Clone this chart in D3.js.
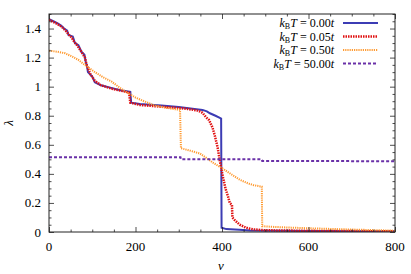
<!DOCTYPE html>
<html>
<head>
<meta charset="utf-8">
<script src="https://cdn.jsdelivr.net/npm/d3@7"></script>
<style>
  body { margin: 0; background: #fff; }
</style>
</head>
<body>
<div id="chart"></div>
<script>
// series: [nu, lambda]
const t000 = [[0,1.465],[10,1.45],[20,1.435],[28,1.42],[35,1.40],[42,1.385],[45,1.355],[55,1.345],[60,1.30],[68,1.285],[75,1.24],[82,1.22],[85,1.17],[88,1.14],[90,1.10],[100,1.07],[106,1.03],[120,1.01],[146,0.99],[165,0.975],[188,0.965],[190,0.89],[210,0.881],[260,0.87],[300,0.86],[341,0.845],[355,0.84],[365,0.83],[372,0.817],[385,0.80],[395,0.785],[398,0.78],[399,0.03],[410,0.02],[440,0.015],[465,0.01],[600,0.007],[800,0.005]];
const t005 = [[0,1.46],[10,1.445],[20,1.43],[30,1.41],[40,1.38],[45,1.36],[52,1.34],[58,1.31],[65,1.285],[75,1.24],[83,1.20],[88,1.14],[95,1.09],[106,1.04],[120,1.01],[146,0.985],[170,0.97],[185,0.96],[188,0.89],[210,0.874],[260,0.862],[300,0.853],[320,0.847],[345,0.835],[355,0.82],[363,0.79],[370,0.77],[378,0.72],[384,0.656],[390,0.58],[395,0.49],[402,0.38],[408,0.30],[414,0.243],[418,0.20],[423,0.186],[424,0.10],[430,0.08],[441,0.05],[455,0.03],[472,0.018],[500,0.012],[600,0.008],[800,0.005]];
const t050 = [[0,1.248],[20,1.24],[37,1.23],[55,1.205],[68,1.184],[85,1.145],[106,1.10],[125,1.065],[145,1.034],[165,0.99],[183,0.955],[200,0.925],[222,0.897],[240,0.875],[257,0.862],[280,0.85],[303,0.84],[305,0.576],[320,0.565],[334,0.553],[349,0.54],[365,0.507],[380,0.475],[395,0.449],[420,0.40],[442,0.358],[460,0.335],[472,0.323],[492,0.312],[493,0.04],[520,0.035],[560,0.03],[607,0.025],[700,0.017],[800,0.009]];
const t5000 = [[0,0.514],[304,0.514],[305,0.50],[492,0.50],[493,0.489],[800,0.487]];

const legendValues = ["0.00", "0.05", "0.50", "50.00"];
const xTicks = [0, 200, 400, 600, 800];
const yTicks = [0, 0.2, 0.4, 0.6, 0.8, 1, 1.2, 1.4];

const series = [
  { data: t000, color: "#3c3cb4", width: 2, dash: null },
  { data: t005, color: "#e01010", width: 2.5, dash: "1.5,1" },
  { data: t050, color: "#ff9a30", width: 2, dash: "1.2,1" },
  { data: t5000, color: "#6a30a8", width: 2, dash: "3,2" }
];

const W = 411, H = 274;
const mLeft = 49, mRight = 395, mTop = 14, mBottom = 232;
const serif = "'Liberation Serif', 'DejaVu Serif', serif";

const x = d3.scaleLinear().domain([0, 800]).range([mLeft, mRight]);
const y = d3.scaleLinear().domain([0, 1.5]).range([mBottom, mTop]);

const svg = d3.select("#chart").append("svg")
  .attr("width", W).attr("height", H)
  .style("font-family", serif);

svg.append("defs").append("clipPath").attr("id", "clip")
  .append("rect").attr("x", mLeft).attr("y", mTop)
  .attr("width", mRight - mLeft).attr("height", mBottom - mTop);

const line = d3.line().x(d => x(d[0])).y(d => y(d[1]));

const plot = svg.append("g").attr("clip-path", "url(#clip)");
series.forEach(s => {
  plot.append("path")
    .datum(s.data)
    .attr("d", line)
    .attr("fill", "none")
    .attr("stroke", s.color)
    .attr("stroke-width", s.width)
    .attr("stroke-dasharray", s.dash);
});

// ticks on all four sides, pointing inward
const axisColor = "#222";
const xMinor = d3.range(0, 801, 50).filter(v => v % 200 !== 0);
const yMinor = d3.range(0, 31).map(i => i * 0.05).filter(v => Math.abs(v * 5 - Math.round(v * 5)) > 1e-6);

function ticks(axis, tr, vals, size) {
  svg.append("g").attr("transform", tr)
    .call(axis.tickValues(vals).tickSize(-size).tickFormat(""))
    .call(g => g.select(".domain").remove());
}
ticks(d3.axisBottom(x), `translate(0,${mBottom})`, xTicks, 5);
ticks(d3.axisBottom(x), `translate(0,${mBottom})`, xMinor, 2.5);
ticks(d3.axisTop(x), `translate(0,${mTop})`, xTicks, 5);
ticks(d3.axisTop(x), `translate(0,${mTop})`, xMinor, 2.5);
ticks(d3.axisLeft(y), `translate(${mLeft},0)`, yTicks, 5);
ticks(d3.axisLeft(y), `translate(${mLeft},0)`, yMinor, 2.5);
ticks(d3.axisRight(y), `translate(${mRight},0)`, yTicks, 5);
ticks(d3.axisRight(y), `translate(${mRight},0)`, yMinor, 2.5);
svg.selectAll(".tick line").attr("stroke", axisColor).attr("stroke-width", 0.8);

svg.append("rect")
  .attr("x", mLeft).attr("y", mTop)
  .attr("width", mRight - mLeft).attr("height", mBottom - mTop)
  .attr("fill", "none").attr("stroke", axisColor).attr("stroke-width", 1);

// tick labels
svg.append("g").selectAll("text").data(xTicks).join("text")
  .attr("x", d => x(d)).attr("y", 251)
  .attr("text-anchor", "middle").attr("font-size", 13)
  .attr("font-family", serif)
  .text(d => d);
svg.append("g").selectAll("text").data(yTicks).join("text")
  .attr("x", 41).attr("y", d => y(d) + 4.5)
  .attr("text-anchor", "end").attr("font-size", 13)
  .attr("font-family", serif)
  .text(d => d);

// axis labels
svg.append("text")
  .attr("transform", "translate(13,123) rotate(-90)")
  .attr("text-anchor", "middle").attr("font-size", 13).attr("font-style", "italic")
  .attr("font-family", serif)
  .text("λ");
svg.append("text")
  .attr("x", 221).attr("y", 270)
  .attr("text-anchor", "middle").attr("font-size", 13).attr("font-style", "italic")
  .attr("font-family", serif)
  .text("ν");

// legend
const legY = [23, 36.5, 50, 63.5];
legendValues.forEach((v, i) => {
  const t = svg.append("text")
    .attr("x", 334).attr("y", legY[i] + 4)
    .attr("text-anchor", "end").attr("font-size", 12)
    .attr("font-family", serif);
  t.append("tspan").attr("font-style", "italic").text("k");
  t.append("tspan").attr("font-size", 8).attr("dy", 2).text("B");
  t.append("tspan").attr("font-style", "italic").attr("dy", -2).text("T");
  t.append("tspan").text(" = " + v);
  t.append("tspan").attr("font-style", "italic").text("t");
  const s = series[i];
  svg.append("line")
    .attr("x1", 343).attr("x2", 378)
    .attr("y1", legY[i]).attr("y2", legY[i])
    .attr("stroke", s.color).attr("stroke-width", s.width)
    .attr("stroke-dasharray", s.dash);
});
</script>
</body>
</html>
